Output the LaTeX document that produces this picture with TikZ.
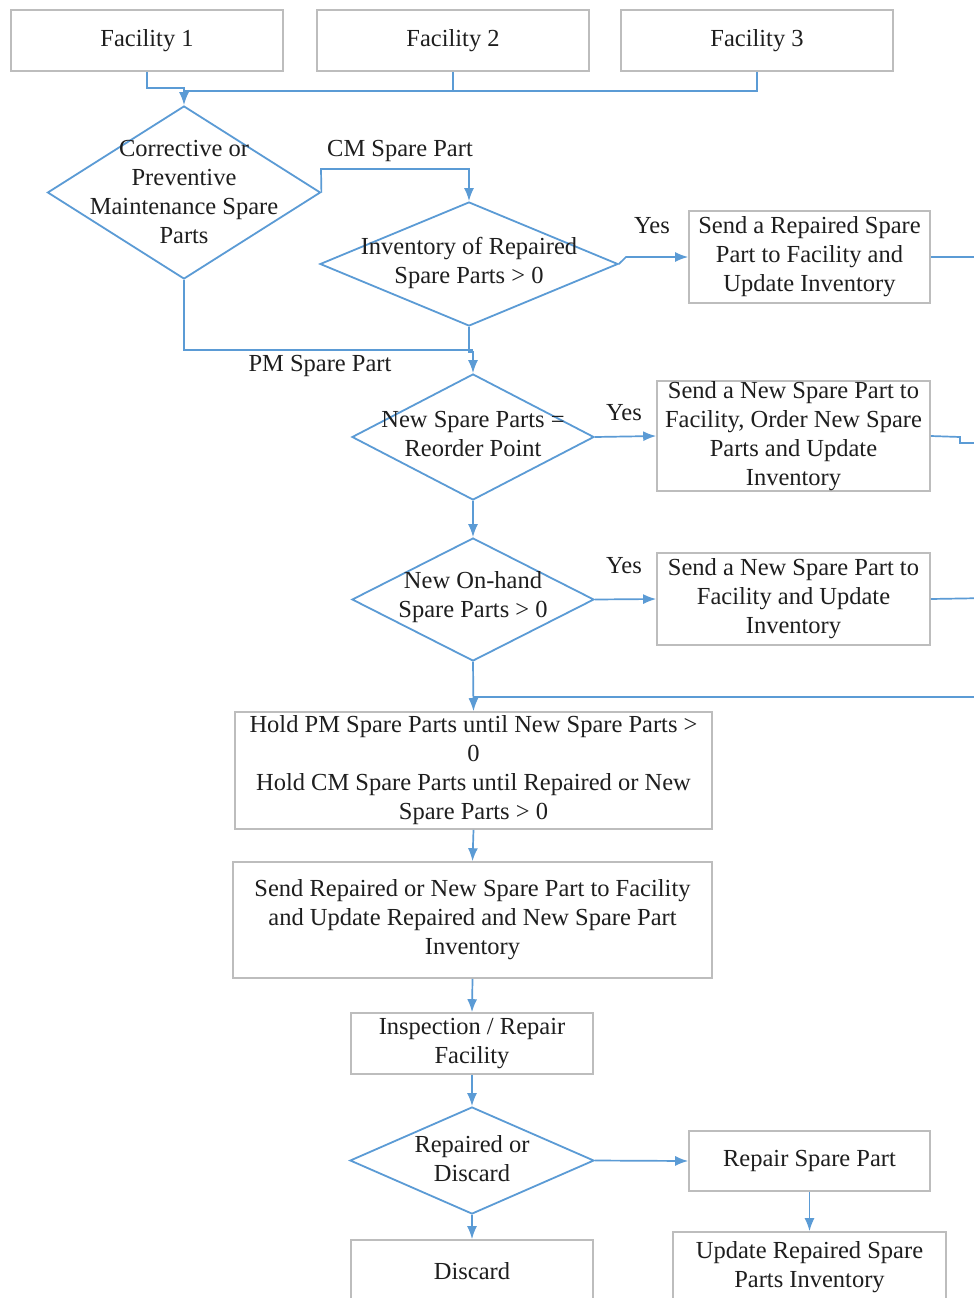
\documentclass[tikz,border=0pt]{standalone}
\usepackage{fontspec}
\setmainfont{Liberation Serif}
\newfontfamily\flowfont{Liberation Serif}
\usetikzlibrary{shapes.geometric,arrows.meta}
\definecolor{flowblue}{HTML}{5B9BD5}
\definecolor{boxgray}{HTML}{BDBDBD}
\definecolor{ink}{HTML}{1E1E1E}
\begin{document}
\begin{tikzpicture}[x=1pt,y=-1pt,
  every node/.style={font=\flowfont\fontsize{24.5}{29}\selectfont, text=ink},
  procbox/.style={draw=boxgray, line width=1.6pt, rectangle, align=center, inner sep=0pt},
  decision/.style={draw=flowblue, line width=1.8pt, diamond, inner sep=0pt},
  dtext/.style={align=center, inner sep=0pt},
  lbl/.style={inner sep=0pt},
  link/.style={draw=flowblue, line width=1.7pt},
  arr/.style={link, -{Latex[length=13pt,width=10pt]}}
]
\clip (0,0) rectangle (974,1298);
\fill[white] (0,0) rectangle (974,1298);

% facilities
\node[procbox, minimum width=272pt, minimum height=61pt] (f1) at (147,40.5) {Facility 1};
\node[procbox, minimum width=272pt, minimum height=61pt] (f2) at (453,40.5) {Facility 2};
\node[procbox, minimum width=272pt, minimum height=61pt] (f3) at (757,40.5) {Facility 3};

% decisions
\node[decision, minimum width=273pt, minimum height=173pt] (d1) at (184,192.5) {};
\node[dtext] at (d1) {Corrective or\\Preventive\\Maintenance Spare\\Parts};
\node[decision, minimum width=298pt, minimum height=124pt] (d2) at (469,264) {};
\node[dtext] at (469,262.5) {Inventory of Repaired\\Spare Parts > 0};
\node[decision, minimum width=242pt, minimum height=126pt] (d3) at (473,437) {};
\node[dtext] at (473,434.5) {New Spare Parts =\\Reorder Point};
\node[decision, minimum width=242pt, minimum height=123pt] (d4) at (473,599.5) {};
\node[dtext] at (473,597.5) {New On-hand\\Spare Parts > 0};
\node[decision, minimum width=244pt, minimum height=107pt] (d5) at (472,1160.5) {};
\node[dtext] at (472,1158.5) {Repaired or\\Discard};

% process boxes
\node[procbox, minimum width=241pt, minimum height=92pt] (r1) at (809.5,257) {Send a Repaired Spare\\Part to Facility and\\Update Inventory};
\node[procbox, minimum width=273pt, minimum height=110pt] (r2) at (793.5,436) {Send a New Spare Part to\\Facility, Order New Spare\\Parts and Update\\Inventory};
\node[procbox, minimum width=273pt, minimum height=92pt] (r3) at (793.5,599) {Send a New Spare Part to\\Facility and Update\\Inventory};
\node[procbox, minimum width=477pt, minimum height=117pt] (hold) at (473.5,770.5) {Hold PM Spare Parts until New Spare Parts >\\0\\Hold CM Spare Parts until Repaired or New\\Spare Parts > 0};
\node[procbox, minimum width=479pt, minimum height=116pt] (send) at (472.5,920) {Send Repaired or New Spare Part to Facility\\and Update Repaired and New Spare Part\\Inventory};
\node[procbox, minimum width=242pt, minimum height=61pt] (insp) at (472,1043.5) {Inspection / Repair\\Facility};
\node[procbox, minimum width=241pt, minimum height=60pt] (repair) at (809.5,1161) {Repair Spare Part};
\node[procbox, minimum width=273pt, minimum height=70pt] (upd) at (809.5,1267) {Update Repaired Spare\\Parts Inventory};
\node[procbox, minimum width=242pt, minimum height=62pt] (disc) at (472,1271) {Discard};

% edge labels
\node[lbl] (lcm) at (400,151) {CM Spare Part};
\node[lbl] (lpm) at (320,366) {PM Spare Part};
\node[lbl] (ly1) at (652,226) {Yes};
\node[lbl] (ly2) at (624,413) {Yes};
\node[lbl] (ly3) at (624,566) {Yes};

% junctions and off-edge ends
\coordinate (jtop) at (184,91);
\coordinate (jpm) at (473,350);
\coordinate (out1) at (990,257);
\coordinate (out2) at (990,443);
\coordinate (out3) at (990,598);
\coordinate (ret) at (990,697);
\coordinate (jret) at (473,697);

% facilities merge
\draw[link] (f3.south) |- (jtop);
\draw[link] (f2.south) -- (f2.south |- jtop);
\draw[arr] (f1.south) -- (147,88) -- (184,88) -- (d1.north);

% corrective / preventive split
\draw[arr] (d1.east) -- (321,169) -| (d2.north);
\draw[link] (d1.south) |- (jpm);
\draw[arr] (d2.south) -- (469,352) -- (473,352) -- (d3.north);

% yes branches
\draw[arr] (d2.east) -- (626,257) -- (r1.west);
\draw[arr] (d3.east) -- (r2.west);
\draw[arr] (d4.east) -- (r3.west);
\draw[link] (r1.east) -- (out1);
\draw[link] (r2.east) -- (960,437) -- (960,443) -- (out2);
\draw[link] (r3.east) -- (out3);
\draw[link] (ret) -- (jret);

% main column
\draw[arr] (d3.south) -- (d4.north);
\draw[arr] (d4.south) -- (hold.north);
\draw[arr] (hold.south) -- (send.north);
\draw[arr] (send.south) -- (insp.north);
\draw[arr] (insp.south) -- (d5.north);
\draw[arr] (d5.east) -- (repair.west);
\draw[arr] (repair.south) -- (upd.north);
\draw[arr] (d5.south) -- (disc.north);
\end{tikzpicture}
\end{document}
